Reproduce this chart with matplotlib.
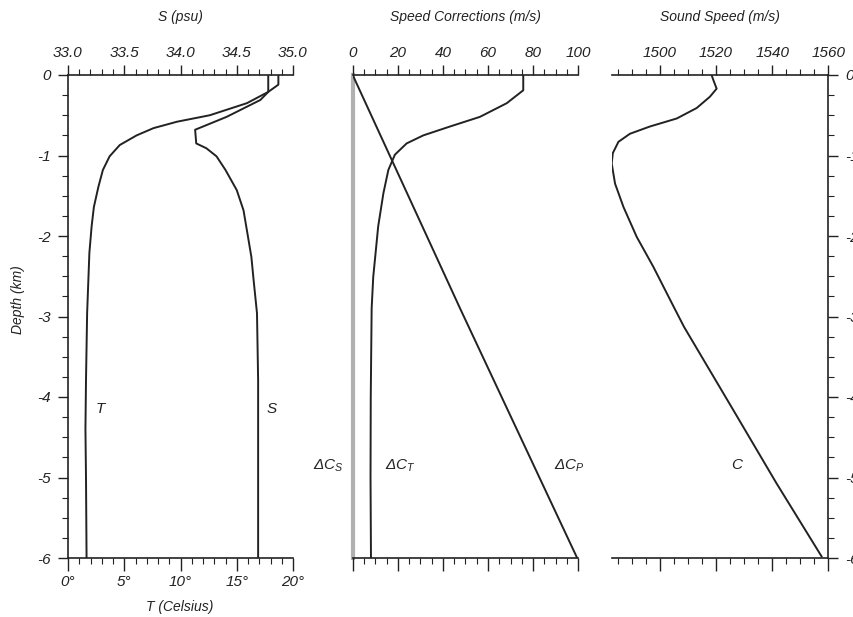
import numpy as np
from matplotlib import pyplot as plt
from matplotlib.ticker import MultipleLocator

plt.rcParams['font.family'] = ['Liberation Sans', 'DejaVu Sans']
plt.rcParams['font.style'] = 'italic'
plt.rcParams['font.size'] = 11
plt.rcParams['mathtext.fontset'] = 'custom'
plt.rcParams['mathtext.rm'] = 'Liberation Sans:italic'
plt.rcParams['mathtext.it'] = 'Liberation Sans:italic'

# temperature profile (deg C) vs depth (km)
depth_T = [0, 0.12, 0.21, 0.35, 0.50, 0.58, 0.66, 0.75, 0.87, 1.01, 1.18, 1.39,
           1.64, 1.88, 2.21, 2.96, 3.79, 4.4, 5.0, 6.0]
temp = [18.7, 18.7, 17.8, 15.9, 12.6, 9.7, 7.6, 6.1, 4.6, 3.7, 3.1, 2.7,
        2.3, 2.1, 1.9, 1.7, 1.6, 1.55, 1.6, 1.65]

# salinity profile (psu)
depth_S = [0, 0.15, 0.21, 0.31, 0.52, 0.68, 0.85, 0.91, 1.01, 1.18, 1.43, 1.68,
           2.01, 2.26, 2.55, 2.96, 3.79, 6.0]
sal = [34.78, 34.78, 34.78, 34.71, 34.41, 34.13, 34.14, 34.23, 34.32, 34.40, 34.50, 34.56,
       34.60, 34.63, 34.65, 34.68, 34.69, 34.69]

# speed corrections (m/s)
depth_CT = [0, 0.19, 0.35, 0.52, 0.64, 0.75, 0.85, 0.99, 1.18, 1.47, 1.88, 2.51, 2.90, 4.0, 5.0, 6.0]
dC_T = [75.6, 75.6, 68.3, 56.4, 43.1, 31.3, 23.9, 18.7, 15.8, 13.6, 11.3, 9.1, 8.4, 8.0, 7.9, 8.1]
depth_CP = [0, 2.9, 6.0]
dC_P = [0, 47.6, 99.5]
depth_CS = [0, 6.0]
dC_S = [0, 0]

# sound speed (m/s)
depth_C = [0, 0.06, 0.17, 0.27, 0.41, 0.54, 0.64, 0.73, 0.83, 0.97, 1.10, 1.35,
           1.64, 2.01, 2.38, 2.90, 3.13, 4.16, 5.07, 5.98]
speed = [1518.4, 1519, 1520.2, 1517.8, 1513.1, 1506, 1496.4, 1489.3, 1485.2, 1483.2, 1482.8, 1484,
         1487, 1491.7, 1497.6, 1505.2, 1508.6, 1526.1, 1541.5, 1557.6]

depth_ticks = [0, -1, -2, -3, -4, -5, -6]
depth_labels = ['0', '-1', '-2', '-3', '-4', '-5', '-6']

ink = '#222222'
lw = 1.4

fig = plt.figure(figsize=(8.54, 6.17), dpi=100)
bot = 1 - 558/617
hgt = 483/617


def depth_axis(ax, side):
    ax.set_ylim(-6, 0)
    ax.set_yticks(depth_ticks)
    ax.set_yticklabels(depth_labels)
    ax.yaxis.set_minor_locator(MultipleLocator(0.25))
    for s in ['left', 'right', 'top', 'bottom']:
        ax.spines[s].set_visible(False)
    if side == 'left':
        ax.spines['left'].set_visible(True)
        ax.yaxis.tick_left()
    elif side == 'right':
        ax.spines['right'].set_visible(True)
        ax.yaxis.tick_right()
    else:
        ax.tick_params(axis='y', which='both', left=False, right=False,
                       labelleft=False, labelright=False)
    ax.spines['bottom'].set_visible(True)
    ax.tick_params(axis='y', which='major', length=7, width=1, pad=5, colors=ink)
    ax.tick_params(axis='y', which='minor', length=4, width=0.8, colors=ink)
    ax.tick_params(axis='x', which='major', length=9, width=1, pad=3, colors=ink)
    ax.tick_params(axis='x', which='minor', length=4, width=0.8, colors=ink)
    for s in ax.spines.values():
        s.set_color(ink)
        s.set_linewidth(1.2)


def top_axis(ax, lo, hi, major, minor, fmt):
    top = ax.twiny()
    top.set_xlim(lo, hi)
    for s in ['left', 'right', 'bottom']:
        top.spines[s].set_visible(False)
    top.spines['top'].set_color(ink)
    top.spines['top'].set_linewidth(1.2)
    top.xaxis.set_major_locator(MultipleLocator(major))
    top.xaxis.set_minor_locator(MultipleLocator(minor))
    top.xaxis.set_major_formatter(fmt)
    top.tick_params(axis='x', which='major', length=7, width=1, pad=4, colors=ink)
    top.tick_params(axis='x', which='minor', length=4, width=0.8, colors=ink)
    top.tick_params(axis='y', which='both', left=False, right=False,
                    labelleft=False, labelright=False)
    return top


# panel 1: temperature and salinity
ax1 = fig.add_axes([68/854, bot, 225/854, hgt])
depth_axis(ax1, 'left')
ax1.set_xlim(0, 20)
ax1.xaxis.set_major_locator(MultipleLocator(5))
ax1.xaxis.set_minor_locator(MultipleLocator(1))
ax1.xaxis.set_major_formatter(lambda v, p: '%d°' % v)
ax1.plot(temp, -np.array(depth_T), color=ink, lw=lw)
ax1s = top_axis(ax1, 33.0, 35.0, 0.5, 0.1, lambda v, p: '%.1f' % v)
ax1s.plot(sal, -np.array(depth_S), color=ink, lw=lw)
ax1.text(2.9, -4.15, 'T', color=ink, ha='center', va='center')
ax1.text(18.1, -4.15, 'S', color=ink, ha='center', va='center')

# panel 2: speed corrections
ax2 = fig.add_axes([352.7/854, bot, 225.6/854, hgt])
depth_axis(ax2, 'none')
ax2.set_xlim(0, 100)
ax2.xaxis.set_major_locator(MultipleLocator(20))
ax2.xaxis.set_minor_locator(MultipleLocator(5))
ax2.tick_params(axis='x', labelbottom=False)
ax2t = top_axis(ax2, 0, 100, 20, 5, lambda v, p: '%d' % v)
ax2.plot(dC_S, -np.array(depth_CS), color='#b0b0b0', lw=3, zorder=1, clip_on=False)
ax2.plot(dC_T, -np.array(depth_CT), color=ink, lw=lw)
ax2.plot(dC_P, -np.array(depth_CP), color=ink, lw=lw)
ax2.text(-4, -4.85, r'$\Delta C_S$', color=ink, ha='right', va='center', clip_on=False)
ax2.text(21, -4.85, r'$\Delta C_T$', color=ink, ha='center', va='center')
ax2.text(96, -4.85, r'$\Delta C_P$', color=ink, ha='center', va='center')

# panel 3: sound speed
ax3 = fig.add_axes([611.7/854, bot, 216.6/854, hgt])
depth_axis(ax3, 'right')
ax3.set_xlim(1482.8, 1560)
ax3.xaxis.set_major_locator(MultipleLocator(20))
ax3.xaxis.set_minor_locator(MultipleLocator(5))
ax3.tick_params(axis='x', labelbottom=False)
ax3t = top_axis(ax3, 1482.8, 1560, 20, 5, lambda v, p: '%d' % v)
ax3.plot(speed, -np.array(depth_C), color=ink, lw=lw)
ax3.text(1527.4, -4.85, 'C', color=ink, ha='center', va='center')

fig.text(180/854, 1 - 17/617, 'S (psu)', ha='center', va='center', color=ink, fontsize=10)
fig.text(465/854, 1 - 17/617, 'Speed Corrections (m/s)', ha='center', va='center', color=ink, fontsize=10)
fig.text(720/854, 1 - 17/617, 'Sound Speed (m/s)', ha='center', va='center', color=ink, fontsize=10)
fig.text(180/854, 1 - 607/617, 'T (Celsius)', ha='center', va='center', color=ink, fontsize=10)
fig.text(18/854, 1 - 300/617, 'Depth (km)', ha='center', va='center', rotation=90, color=ink, fontsize=10)

fig.savefig('out.png', dpi=100)
